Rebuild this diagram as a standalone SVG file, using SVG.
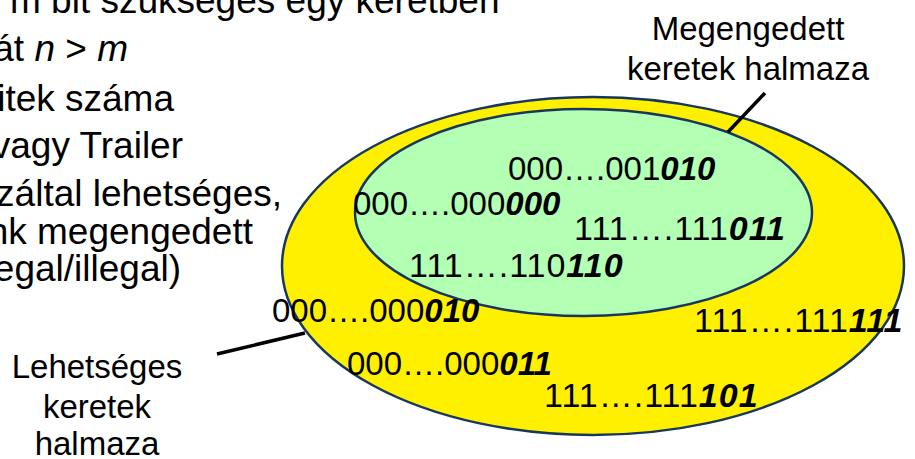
<svg xmlns="http://www.w3.org/2000/svg" width="915" height="459" viewBox="0 0 915 459">
<style>
.body{font-family:"Liberation Sans",Arial,sans-serif;font-size:37px;fill:#000}
.lbl{font-family:"Liberation Sans",Arial,sans-serif;font-size:33px;fill:#000;text-anchor:middle}
.num{font-family:"Liberation Sans",Arial,sans-serif;font-size:33px;fill:#000}
.one{font-size:34px;letter-spacing:1px}
.bi{font-weight:bold;font-style:italic}
.it{font-style:italic}
.set{stroke:#17375E;stroke-width:2.5}
.conn{stroke:#000;stroke-width:3.5;fill:none}
</style>
<rect width="915" height="459" fill="#fff"/>
<g id="body-text" class="body" text-anchor="end">
<text x="10" y="13" text-anchor="start">m bit szükséges egy keretben</text>
<text x="128" y="61">át <tspan class="it">n</tspan> &gt; <tspan class="it">m</tspan></text>
<text x="174" y="111">itek száma</text>
<text x="183" y="158">vagy Trailer</text>
<text x="282" y="206">záltal lehetséges,</text>
<text x="253" y="244">nk megengedett</text>
<text x="181" y="281">egal/illegal)</text>
</g>
<g id="possible-set">
<ellipse class="set" cx="593" cy="266" rx="311" ry="169" fill="#FFF000"/>
</g>
<g id="allowed-set">
<ellipse class="set" cx="583.5" cy="212.5" rx="228.5" ry="103.5" fill="#B3FFB3"/>
</g>
<g id="frames" class="num">
<text x="508" y="180">000….001<tspan class="bi">010</tspan></text>
<text x="353" y="215">000….000<tspan class="bi">000</tspan></text>
<text class="one" x="574" y="240">111….111<tspan class="bi">011</tspan></text>
<text class="one" x="409" y="277">111….110<tspan class="bi">110</tspan></text>
<text x="272" y="322">000….000<tspan class="bi">010</tspan></text>
<text class="one" x="694" y="332">111….111<tspan class="bi">111</tspan></text>
<text x="347" y="375">000….000<tspan class="bi">011</tspan></text>
<text class="one" x="544" y="407">111….111<tspan class="bi">101</tspan></text>
</g>
<g id="label-allowed" class="lbl">
<text x="748" y="40">Megengedett</text>
<text x="748" y="80">keretek halmaza</text>
</g>
<g id="label-possible" class="lbl">
<text x="97" y="378">Lehetséges</text>
<text x="97" y="418">keretek</text>
<text x="97" y="455">halmaza</text>
</g>
<g id="connectors">
<line class="conn" x1="765" y1="93" x2="728" y2="132"/>
<line class="conn" x1="217" y1="354" x2="305" y2="333"/>
</g>
</svg>
